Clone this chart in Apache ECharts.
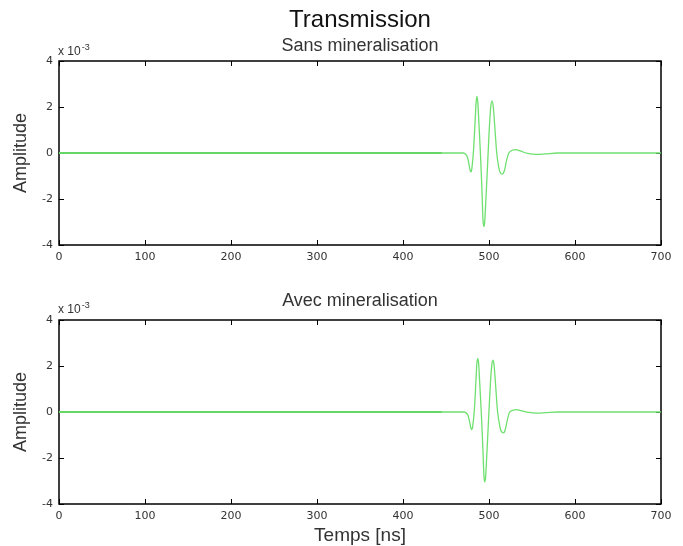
<!DOCTYPE html>
<html><head><meta charset="utf-8">
<script src="https://cdn.jsdelivr.net/npm/echarts@6/dist/echarts.min.js"></script>
<style>html,body{margin:0;padding:0;background:#fff}#c{width:683px;height:546px}</style>
</head><body><div id="c"></div>
<script>
// Time [ns] and amplitude (x 10^-3)
const timeSans = [0,440,470,474,476,478,479,480,482,484,485,486,487,488,490,492,493,494,495,496,498,500,502,503.5,505,507,509,511,513,515.5,518,520,523,527,531,537,545,555,565,580,700];
const ampSans  = [0,0,0,-0.1,-0.35,-0.75,-0.82,-0.7,0.1,1.5,2.2,2.46,2.2,1.5,0,-1.8,-2.9,-3.2,-3.0,-2.3,-0.8,0.8,2.0,2.27,2.0,1.0,0,-0.55,-0.85,-0.92,-0.75,-0.4,0,0.12,0.15,0.08,-0.02,-0.06,-0.04,0,0];
const timeAvec = [0,440,471,475,477,479,480,481,483,485,486,487,488,489,491,493,494,495,496,497,499,501,503,504.7,506,508,510,512,514,517,519,521,524,528,532,538,546,556,566,580,700];
const ampAvec  = [0,0,0,-0.1,-0.35,-0.7,-0.77,-0.65,0.1,1.5,2.15,2.32,2.1,1.4,0,-1.7,-2.7,-3.04,-2.85,-2.2,-0.7,0.8,1.95,2.25,2.0,1.0,0,-0.5,-0.82,-0.91,-0.75,-0.4,0,0.08,0.1,0.05,-0.02,-0.05,-0.03,0,0];
// thicker baseline segment at start of each trace
const baseTime = [0,445];
const baseAmp = [0,0];
const xTicks = [0,100,200,300,400,500,600,700];
const yTicks = [-4,-2,0,2,4];

const pairs = (t,a)=>t.map((v,i)=>[v,a[i]]);
const font = 'Liberation Sans, Arial, sans-serif';
const tickFont = 'DejaVu Sans, sans-serif';
const grids = [
  {left:59, top:61, width:602, height:184, show:true, borderColor:'#000', borderWidth:1.5},
  {left:59, top:320, width:602, height:184, show:true, borderColor:'#000', borderWidth:1.5}
];
function xAx(g, pos, labels){
  return {type:'value', gridIndex:g, position:pos, min:xTicks[0], max:xTicks[xTicks.length-1], interval:100,
    axisLine:{show:false, onZero:false}, splitLine:{show:false},
    axisTick:{show:true, inside:true, length:5, lineStyle:{color:'#000'}},
    axisLabel:{show:labels, color:'#333', fontSize:11, fontFamily:tickFont, margin:7}};
}
function yAx(g, pos, labels){
  return {type:'value', gridIndex:g, position:pos, min:yTicks[0], max:yTicks[yTicks.length-1], interval:2,
    axisLine:{show:false, onZero:false}, splitLine:{show:false},
    axisTick:{show:true, inside:true, length:5, lineStyle:{color:'#000'}},
    axisLabel:{show:labels, color:'#333', fontSize:11, fontFamily:tickFont, margin:6},
    name: labels ? 'Amplitude' : '', nameLocation:'middle', nameGap:29,
    nameTextStyle:{fontSize:18, color:'#333', fontFamily:font}};
}
const lineCol = '#6fe06f';
const sup = {fontSize:12, fontWeight:'normal', color:'#333', fontFamily:font, rich:{s:{fontSize:9, verticalAlign:'top', padding:[0,0,9,1], color:'#333', fontFamily:font}}};
const chart = echarts.init(document.getElementById('c'));
chart.setOption({
  animation:false,
  backgroundColor:'#fff',
  title:[
    {text:'Transmission', left:360, textAlign:'center', top:8, padding:0, textStyle:{fontSize:24, fontWeight:'normal', color:'#111', fontFamily:font}},
    {text:'Sans mineralisation', left:360, textAlign:'center', top:37, padding:0, textStyle:{fontSize:18, fontWeight:'normal', color:'#333', fontFamily:font}},
    {text:'Avec mineralisation', left:360, textAlign:'center', top:292, padding:0, textStyle:{fontSize:18, fontWeight:'normal', color:'#333', fontFamily:font}},
    {text:'x 10{s|-3}', left:58, top:43, padding:0, textStyle:sup},
    {text:'x 10{s|-3}', left:58, top:301, padding:0, textStyle:sup},
    {text:'Temps [ns]', left:360, textAlign:'center', top:526, padding:0, textStyle:{fontSize:19, fontWeight:'normal', color:'#333', fontFamily:font}}
  ],
  grid:grids,
  xAxis:[xAx(0,'bottom',true), xAx(0,'top',false), xAx(1,'bottom',true), xAx(1,'top',false)],
  yAxis:[yAx(0,'left',true), yAx(0,'right',false), yAx(1,'left',true), yAx(1,'right',false)],
  series:[
    {type:'line', xAxisIndex:0, yAxisIndex:0, data:pairs(baseTime,baseAmp), showSymbol:false, lineStyle:{color:'#4cbf4c', width:2}},
    {type:'line', xAxisIndex:0, yAxisIndex:0, data:pairs(timeSans,ampSans), showSymbol:false, smooth:0.3, lineStyle:{color:lineCol, width:1.3}},
    {type:'line', xAxisIndex:2, yAxisIndex:2, data:pairs(baseTime,baseAmp), showSymbol:false, lineStyle:{color:'#4cbf4c', width:2}},
    {type:'line', xAxisIndex:2, yAxisIndex:2, data:pairs(timeAvec,ampAvec), showSymbol:false, smooth:0.3, lineStyle:{color:lineCol, width:1.3}}
  ]
});
</script></body></html>
